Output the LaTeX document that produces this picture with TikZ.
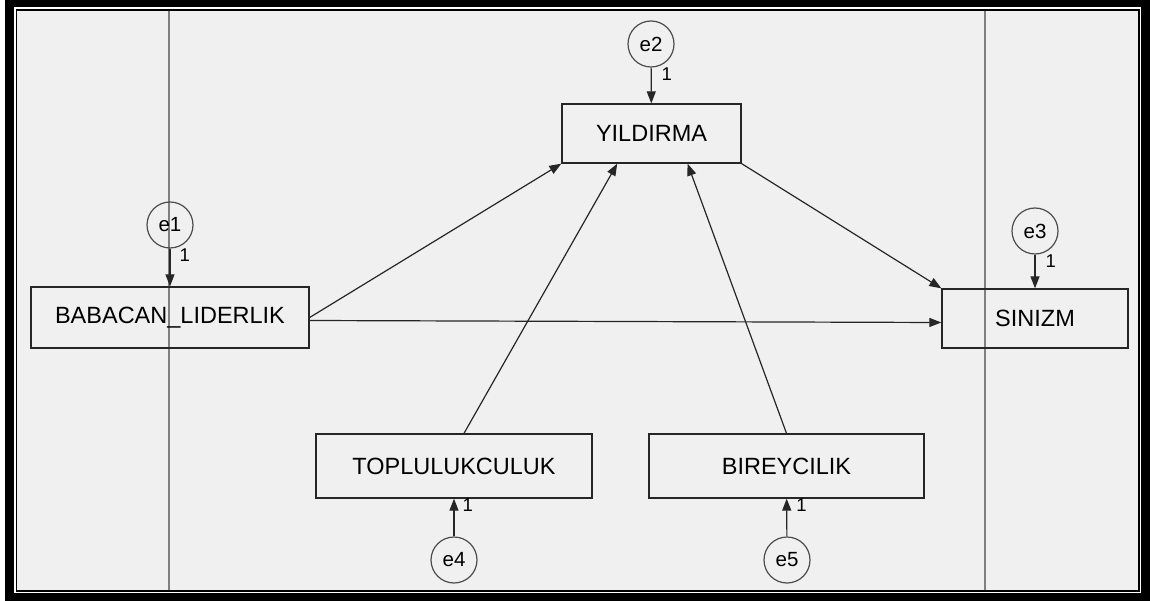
\documentclass[tikz,border=0pt]{standalone}
\usepackage{fontspec}
\setmainfont{Liberation Sans}
\usetikzlibrary{arrows.meta,calc}
\definecolor{amosbg}{HTML}{F0F0F0}
\definecolor{gridline}{HTML}{7F7F7F}
\begin{document}
\begin{tikzpicture}[x=1pt,y=-1pt,
    var/.style n args={2}{draw=black!85,line width=1.3pt,minimum width=#1pt,minimum height=#2pt,inner sep=0pt,font=\fontsize{23.5}{28}\selectfont},
    err/.style={circle,draw=black!70,line width=1.2pt,minimum size=46pt,inner sep=0pt,font=\fontsize{20.5}{24}\selectfont},
    arr/.style={-{Triangle[length=12pt,width=9pt]},line width=1.2pt,draw=black!85},
    one/.style={font=\fontsize{18.5}{22}\selectfont,inner sep=0pt}]
  % window frame
  \useasboundingbox (0,0) rectangle (1150,601);
  \fill (5,0) rectangle (1150,601);
  \fill[white] (14,7) rectangle (1141,593);
  \fill (16,9) rectangle (1140,592);
  \fill[amosbg] (17,11) rectangle (1138,590);
  \foreach \gx in {169,985} {
      \draw[gridline,line width=1.5pt] (\gx,11) -- (\gx,590);
    }
  % observed variables
  \node[var={278}{61}] (bab) at (170,317.5) {BABACAN\_LIDERLIK};
  \node[var={179}{59}] (yil) at (651.5,133.5) {YILDIRMA};
  \node[var={186}{59}] (sin) at (1035,318.5) {SINIZM};
  \node[var={276}{64}] (top) at (454,466) {TOPLULUKCULUK};
  \node[var={275}{64}] (bir) at (786.5,466) {BIREYCILIK};
  % error terms
  \node[err] (e1) at (170,225) {e1};
  \node[err] (e2) at (651,44) {e2};
  \node[err] (e3) at (1035,231) {e3};
  \node[err] (e4) at (454,560) {e4};
  \node[err] (e5) at (787,560) {e5};
  \draw[arr] (e1) -- node[one,pos=0,anchor=north west,xshift=9pt] {1} (bab);
  \draw[arr] (e2) -- node[one,pos=0,anchor=north west,xshift=10pt] {1} (yil);
  \draw[arr] (e3) -- node[one,pos=0,anchor=north west,xshift=10pt] {1} (sin);
  \draw[arr] (e4) -- node[one,pos=1,anchor=north west,xshift=8pt] {1} (top);
  \draw[arr] (e5) -- node[one,pos=1,anchor=north west,xshift=9pt] {1} (bir);
  % paths
  \draw[arr] (bab.east) -- (yil.south west);
  \draw[arr] ($(bab.east)+(0,3)$) -- ($(sin.west)+(0,4)$);
  \draw[arr] ($(top.north)+(10,0)$) -- ($(yil.south west)!0.31!(yil.south east)$);
  \draw[arr] (bir.north) -- ($(yil.south west)!0.70!(yil.south east)$);
  \draw[arr] (yil.south east) -- (sin.north west);
\end{tikzpicture}
\end{document}
